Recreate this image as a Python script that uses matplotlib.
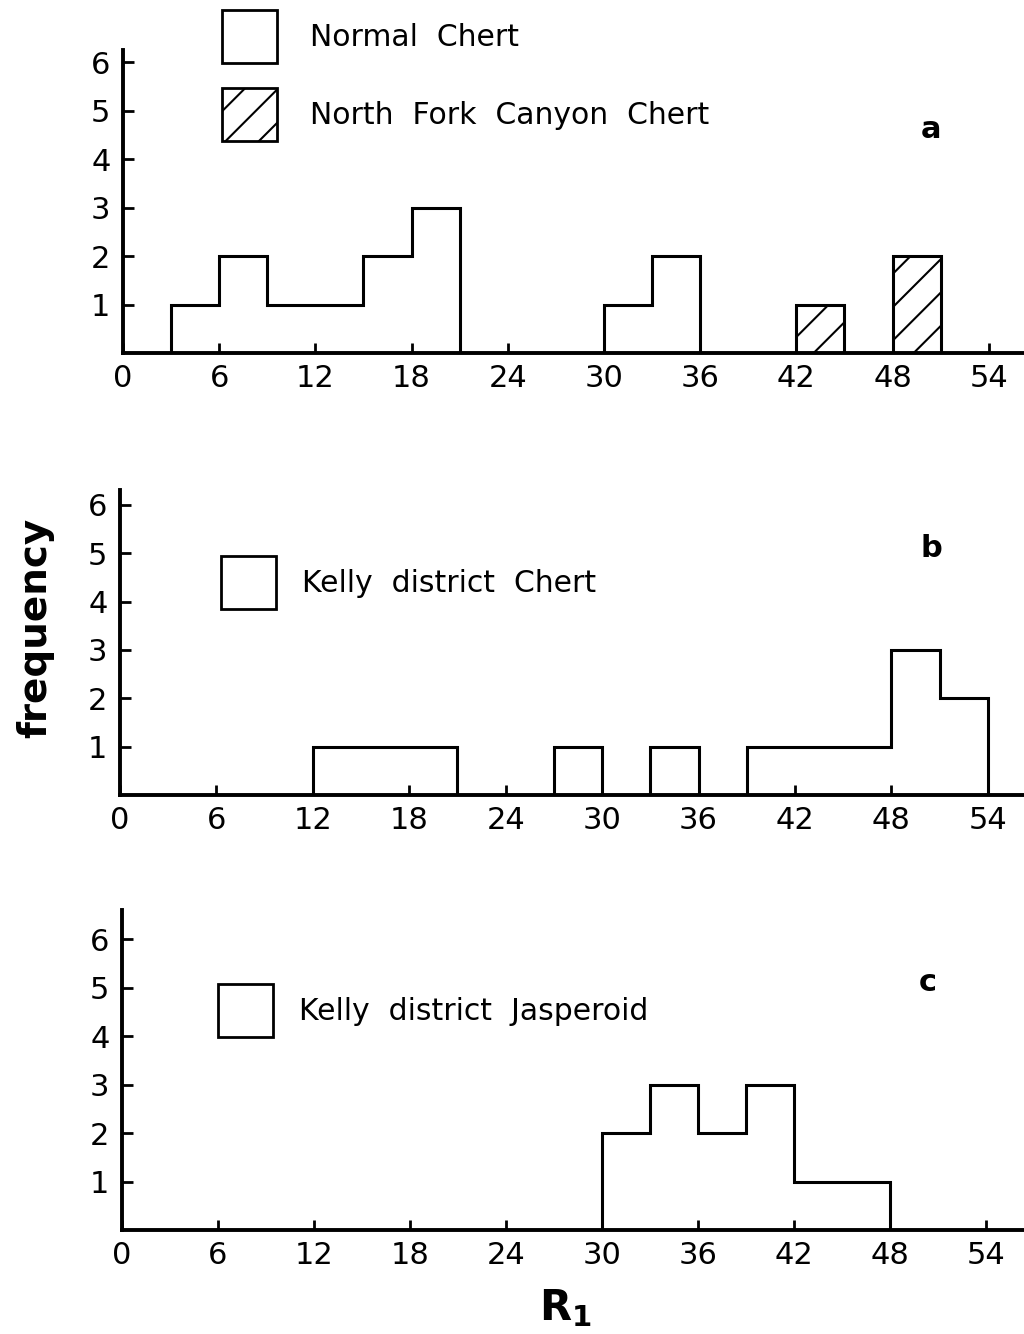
import numpy as np
import matplotlib.pyplot as plt
from matplotlib.patches import Patch

# R1 classes, width 3
bin_edges = np.arange(0, 60, 3)          # 0 .. 57
x_ticks = [0, 6, 12, 18, 24, 30, 36, 42, 48, 54]
y_ticks = [1, 2, 3, 4, 5, 6]

# a: normal chert / North Fork Canyon chert
normal_chert = [0, 1, 2, 1, 1, 2, 3, 0, 0, 0, 1, 2, 0, 0, 0, 0, 0, 0, 0]
nfc_chert    = [0, 0, 0, 0, 0, 0, 0, 0, 0, 0, 0, 0, 0, 0, 1, 0, 2, 0, 0]
# b: Kelly district chert
kelly_chert  = [0, 0, 0, 0, 1, 1, 1, 0, 0, 1, 0, 1, 0, 1, 1, 1, 3, 2, 0]
# c: Kelly district jasperoid
kelly_jasp   = [0, 0, 0, 0, 0, 0, 0, 0, 0, 0, 2, 3, 2, 3, 1, 1, 0, 0, 0]

plt.rcParams['font.family'] = 'DejaVu Sans'
plt.rcParams['hatch.linewidth'] = 1.5

fig = plt.figure(figsize=(10.24, 13.34), dpi=100)

W, H = 1024.0, 1334.0
# (left px, axis px, top px, ymax, xmax)
panels = [
    (123, 353, 50, 6.25, 56.2),
    (120, 795, 490, 6.31, 56.25),
    (122, 1230, 910, 6.6, 56.4),
]

axes = []
for left, base, top, ymax, xmax in panels:
    ax = fig.add_axes([left / W, 1 - base / H, (W - left) / W, (base - top) / H])
    ax.set_xlim(0, xmax)
    ax.set_ylim(0, ymax)
    ax.set_xticks(x_ticks)
    ax.set_yticks(y_ticks)
    ax.tick_params(axis='both', direction='in', width=2, labelsize=22)
    ax.tick_params(axis='y', length=8, pad=9)
    ax.tick_params(axis='x', length=7, pad=8)
    for s in ['top', 'right']:
        ax.spines[s].set_visible(False)
    for s in ['left', 'bottom']:
        ax.spines[s].set_linewidth(2.8)
    ax.set_facecolor('none')
    axes.append(ax)

ax_a, ax_b, ax_c = axes
lw = 2.2
leg_kw = dict(bbox_transform=fig.transFigure, loc='upper left', frameon=False,
              fontsize=21.5, handlelength=1.85, handleheight=2.35,
              borderpad=0, borderaxespad=0)

# panel a
ax_a.stairs(normal_chert, bin_edges, baseline=0, fill=False, color='k', lw=lw)
nfc = np.array(nfc_chert)
m = nfc > 0
ax_a.bar(bin_edges[:-1][m], nfc[m], width=3, align='edge', fill=False,
         edgecolor='k', hatch='/', lw=lw)
ax_a.text(50.4, 4.6, 'a', fontsize=22, fontweight='bold', ha='center', va='center')
h_open = Patch(facecolor='white', edgecolor='k', lw=2)
h_hatch = Patch(facecolor='white', edgecolor='k', lw=2, hatch='/')
ax_a.legend([h_open, h_hatch], ['Normal  Chert', 'North  Fork  Canyon  Chert'],
            bbox_to_anchor=(222 / W, 1 - 10 / H), labelspacing=0.85,
            handletextpad=1.1, **leg_kw)

# panel b
ax_b.stairs(kelly_chert, bin_edges, baseline=0, fill=False, color='k', lw=lw)
ax_b.text(50.5, 5.1, 'b', fontsize=22, fontweight='bold', ha='center', va='center')
ax_b.legend([Patch(facecolor='white', edgecolor='k', lw=2)], ['Kelly  district  Chert'],
            bbox_to_anchor=(221 / W, 1 - 556 / H), handletextpad=0.85, **leg_kw)

# panel c
ax_c.stairs(kelly_jasp, bin_edges, baseline=0, fill=False, color='k', lw=lw)
ax_c.text(50.4, 5.1, 'c', fontsize=22, fontweight='bold', ha='center', va='center')
ax_c.legend([Patch(facecolor='white', edgecolor='k', lw=2)], ['Kelly  district  Jasperoid'],
            bbox_to_anchor=(218 / W, 1 - 984 / H), handletextpad=0.85, **leg_kw)

fig.text(35 / W, 1 - 628 / H, 'frequency', rotation=90, fontsize=28,
         fontweight='bold', ha='center', va='center')
fig.text(565 / W, 1 - 1308 / H, r'R$_\mathbf{1}$', fontsize=30,
         fontweight='bold', ha='center', va='center')

fig.savefig('out.png', dpi=100)
